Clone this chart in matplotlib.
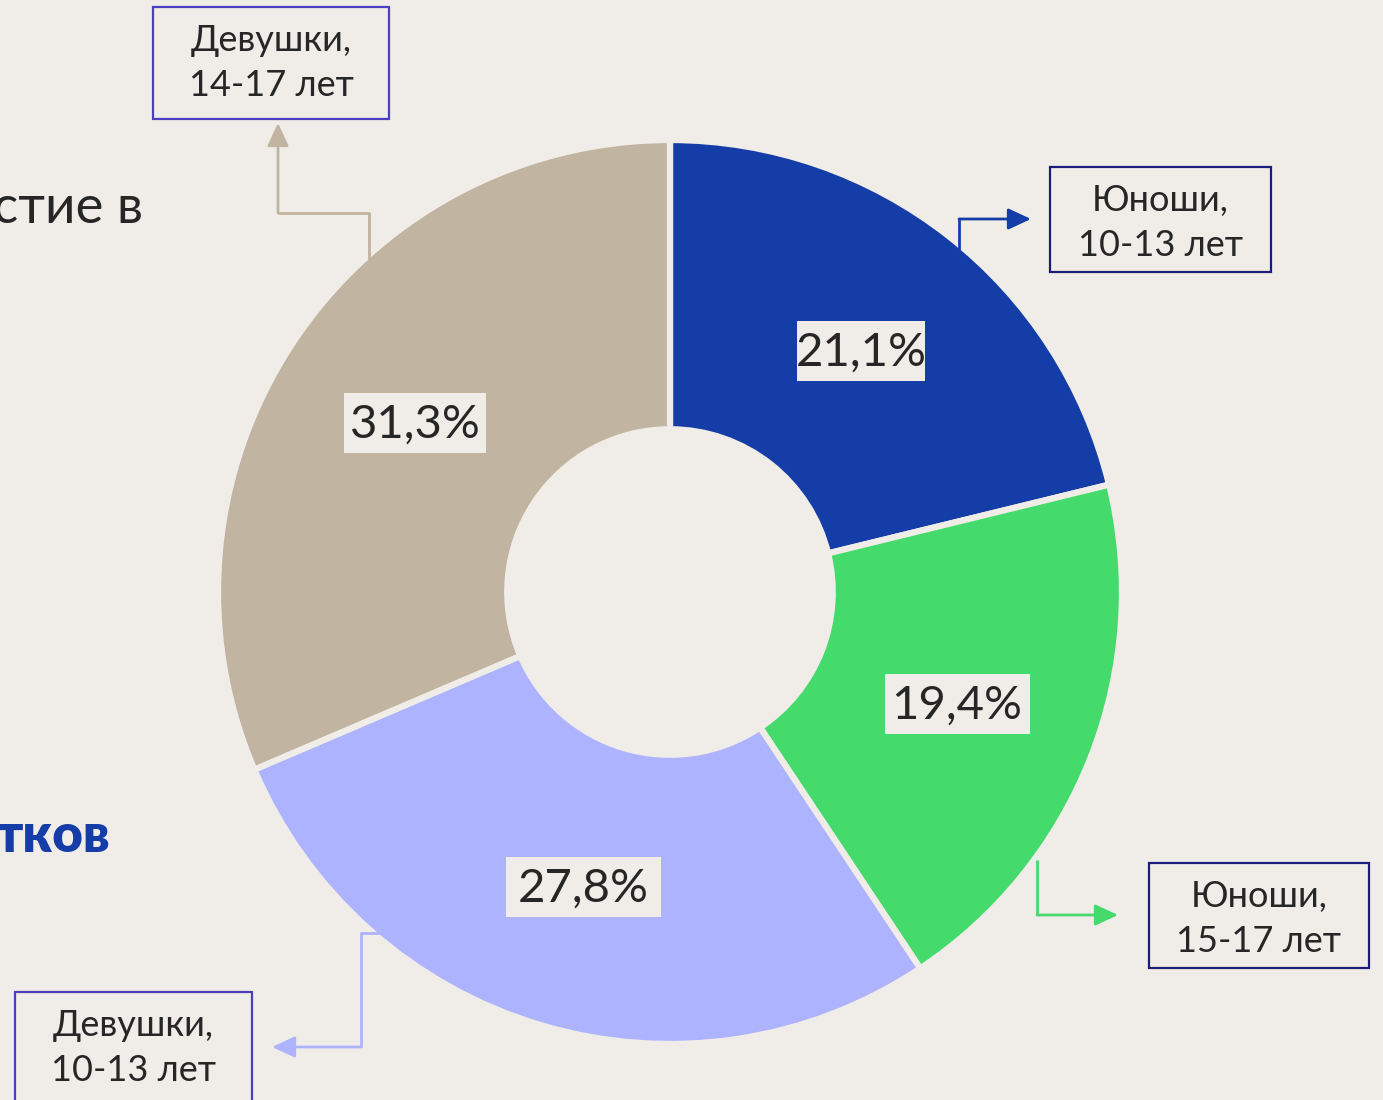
import matplotlib.pyplot as plt
from matplotlib.patches import Rectangle

# data
groups = ["Юноши,\n10-13 лет", "Юноши,\n15-17 лет", "Девушки,\n10-13 лет", "Девушки,\n14-17 лет"]
shares = [21.1, 19.4, 27.8, 31.3]
pct_labels = ["21,1%", "19,4%", "27,8%", "31,3%"]
colors = ["#153da8", "#44da6c", "#adb3ff", "#c1b4a0"]
box_edges = ["#1b1b7a", "#1b1b7a", "#4b3fc0", "#4b3fc0"]

BG = "#f0ede8"
TXT = "#262626"
FONT = "Lato"

# layout (pixel coordinates, y down)
center = (670, 592)
radius = 452
pct_pos = [(861, 351), (957, 704), (583, 887), (415, 423)]
pct_box_w = [128, 145, 155, 142]
pct_box_h = 60
# category boxes: x0, y0, w, h
boxes = [(1050, 167, 221, 105), (1149, 863, 220, 105), (15, 992, 237, 120), (153, 7, 236, 112)]
# elbow connectors: list of points, last one is the arrow tip
connectors = [
    [(959, 250), (959, 219), (1031, 219)],
    [(1037, 860), (1037, 915), (1118, 915)],
    [(383, 933), (361, 933), (361, 1047), (272, 1047)],
    [(369, 260), (369, 213), (278, 213), (278, 123)],
]

fig = plt.figure(figsize=(13.83, 11), dpi=100)
fig.patch.set_facecolor(BG)
ax = fig.add_axes([0, 0, 1, 1])
ax.set_facecolor(BG)

ax.pie(shares, colors=colors, center=center, radius=radius,
       startangle=-90, counterclock=True,
       wedgeprops=dict(width=radius * 0.64, edgecolor=BG, linewidth=4.5))
ax.set_xlim(0, 1383)
ax.set_ylim(1100, 0)
ax.set_aspect("equal")
ax.axis("off")

# percentage labels
for (x, y), w, s in zip(pct_pos, pct_box_w, pct_labels):
    ax.add_patch(Rectangle((x - w / 2, y - pct_box_h / 2), w, pct_box_h,
                           fc=BG, ec="none", zorder=3))
    ax.text(x, y + 2, s, ha="center", va="center", fontsize=34, color=TXT,
            family=FONT, zorder=4)

# category boxes
for (x0, y0, w, h), g, ec in zip(boxes, groups, box_edges):
    ax.add_patch(Rectangle((x0, y0), w, h, fc=BG, ec=ec, lw=1.6, zorder=3))
    ax.text(x0 + w / 2, y0 + 56, g, ha="center", va="center", fontsize=26,
            color=TXT, family=FONT, linespacing=1.45, zorder=4)

# connectors with arrows
for pts, c in zip(connectors, colors):
    xs = [p[0] for p in pts[:-1]]
    ys = [p[1] for p in pts[:-1]]
    ax.plot(xs, ys, color=c, lw=2, solid_capstyle="butt")
    ax.annotate("", xy=pts[-1], xytext=pts[-2],
                arrowprops=dict(arrowstyle="-|>,head_length=1.4,head_width=0.65",
                                color=c, lw=2, shrinkA=0, shrinkB=0))

# cropped page text around the chart
ax.text(143, 223, "стие в", ha="right", va="baseline", fontsize=38,
        color=TXT, family=FONT)
ax.text(110, 852, "тков", ha="right", va="baseline", fontsize=38,
        color="#153da8", family=FONT, fontweight="heavy")

fig.savefig("out.png", dpi=100, facecolor=BG)
